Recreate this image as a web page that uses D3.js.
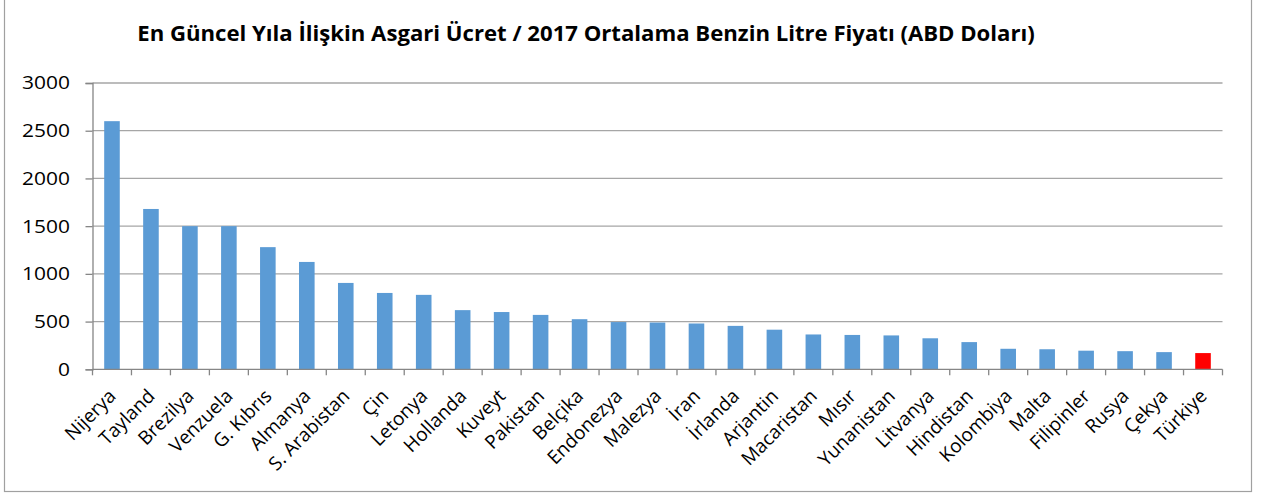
<!DOCTYPE html>
<html>
<head>
<meta charset="utf-8">
<script src="https://cdn.jsdelivr.net/npm/d3@7"></script>
<style>
  body { margin: 0; background: #fff; }
  svg { display: block; }
</style>
</head>
<body>
<div id="chart"></div>
<script>
// Asgari ücret / benzin litre fiyatı, ülkeler
const countries = ["Nijerya", "Tayland", "Brezilya", "Venzuela", "G. Kıbrıs", "Almanya", "S. Arabistan", "Çin",
    "Letonya", "Hollanda", "Kuveyt", "Pakistan", "Belçika", "Endonezya", "Malezya", "İran", "İrlanda",
    "Arjantin", "Macaristan", "Mısır", "Yunanistan", "Litvanya", "Hindistan", "Kolombiya", "Malta",
    "Filipinler", "Rusya", "Çekya", "Türkiye"];
const values = [2600, 1680, 1500, 1500, 1280, 1125, 905, 800,
    780, 620, 600, 570, 525, 495, 490, 480, 455,
    415, 365, 360, 355, 325, 285, 215, 210,
    195, 190, 180, 170];
const yTicks = [0, 500, 1000, 1500, 2000, 2500, 3000];
const highlight = "Türkiye";
const title = "En Güncel Yıla İlişkin Asgari Ücret / 2017 Ortalama Benzin Litre Fiyatı (ABD Doları)";

const W = 1263, H = 495;
const margin = {top: 83, right: 40.5, bottom: 125.7, left: 92.5};
const width = W - margin.left - margin.right,
    height = H - margin.top - margin.bottom;
const font = "'Open Sans', sans-serif";
const stretch = 1.12;   // the y labels in the picture are a bit wider than the font

const data = countries.map((c, i) => ({name: c, value: values[i]}));

const svg = d3.select("#chart").append("svg")
    .attr("width", W)
    .attr("height", H);

// outer chart frame
svg.append("rect")
    .attr("x", 4.5).attr("y", -5)
    .attr("width", 1247).attr("height", 496.5)
    .attr("fill", "none")
    .attr("stroke", "#a0a0a0")
    .attr("stroke-width", 1.2);

const titleText = svg.append("text")
    .attr("text-anchor", "middle")
    .style("font-family", font)
    .style("font-weight", "bold")
    .style("font-size", "20.5px")
    .attr("fill", "#000")
    .text(title);
// fit the title to the width it has in the picture
const tw = titleText.node().getComputedTextLength();
titleText.attr("transform", `translate(586,40.5) scale(${898 / tw},1)`);

const g = svg.append("g")
    .attr("transform", `translate(${margin.left},${margin.top})`);

const x = d3.scaleBand()
    .domain(countries)
    .range([0, width])
    .paddingInner(0.6)
    .paddingOuter(0.3);

const y = d3.scaleLinear()
    .domain([0, 3000])
    .range([height, 0]);

// gridlines
g.append("g")
    .selectAll("line")
    .data(yTicks.filter(d => d > 0))
    .join("line")
    .attr("x1", 0).attr("x2", width)
    .attr("y1", d => y(d)).attr("y2", d => y(d))
    .attr("stroke", "#a6a6a6")
    .attr("stroke-width", 1.3);

// bars
g.append("g")
    .selectAll("rect")
    .data(data)
    .join("rect")
    .attr("x", d => x(d.name))
    .attr("y", d => y(d.value))
    .attr("width", x.bandwidth())
    .attr("height", d => height - y(d.value))
    .attr("fill", d => d.name === highlight ? "#ff0000" : "#5b9bd5");

// y axis
const yAxis = g.append("g")
    .call(d3.axisLeft(y).tickValues(yTicks).tickFormat(d3.format("d")).tickSize(7));
yAxis.select(".domain").attr("stroke", "#868686").attr("stroke-width", 1.3);
yAxis.selectAll(".tick line").attr("stroke", "#868686").attr("stroke-width", 1.3);
yAxis.selectAll(".tick text")
    .attr("x", 0)
    .attr("transform", `translate(-22.5,0) scale(${stretch},1)`)
    .style("font-family", font)
    .style("font-size", "18.7px")
    .attr("fill", "#000");

// x axis: ticks at the band boundaries
const step = x.step();
const xAxis = g.append("g")
    .attr("transform", `translate(0,${height})`);
xAxis.append("line")
    .attr("x1", 0).attr("x2", width)
    .attr("stroke", "#868686").attr("stroke-width", 1.3);
xAxis.selectAll(".btick")
    .data(d3.range(countries.length + 1))
    .join("line")
    .attr("class", "btick")
    .attr("x1", i => i * step).attr("x2", i => i * step)
    .attr("y1", 0).attr("y2", 6)
    .attr("stroke", "#868686").attr("stroke-width", 1.3);

xAxis.selectAll(".lbl")
    .data(countries)
    .join("text")
    .attr("class", "lbl")
    .attr("transform", d => `translate(${x(d) + x.bandwidth() / 2 + 5},28) rotate(-45)`)
    .attr("text-anchor", "end")
    .style("font-family", font)
    .style("font-size", "19px")
    .attr("fill", "#000")
    .text(d => d);
</script>
</body>
</html>
